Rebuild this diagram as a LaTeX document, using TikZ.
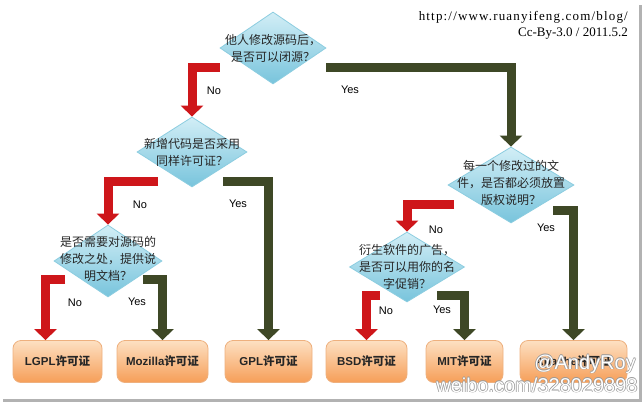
\documentclass[tikz,border=0pt]{standalone}
\usepackage{fontspec}
\setmainfont{Liberation Serif}
\newfontfamily\cjk{Noto Sans CJK SC}
\newfontfamily\arial{Liberation Sans}
\usetikzlibrary{shapes.geometric,arrows.meta}

\definecolor{noRed}{RGB}{206,22,26}
\definecolor{yesGreen}{RGB}{62,72,38}
\definecolor{diaTop}{RGB}{210,238,246}
\definecolor{diaBot}{RGB}{120,196,220}
\definecolor{diaLine}{RGB}{140,205,224}
\definecolor{boxTop}{RGB}{253,224,194}
\definecolor{boxBot}{RGB}{246,158,88}
\definecolor{boxLine}{RGB}{238,176,126}

\tikzset{
  question/.style 2 args={shape=diamond, minimum width=#1, minimum height=#2,
    inner sep=0pt, draw=diaLine, line width=0.8pt,
    top color=diaTop, bottom color=diaBot},
  qtext/.style={font=\cjk\fontsize{12}{17}\selectfont, align=center,
    text=black!85, inner sep=0pt},
  licence/.style={rectangle, rounded corners=8pt, minimum width=#1,
    minimum height=42pt, draw=boxLine, line width=0.8pt,
    top color=boxTop, bottom color=boxBot, text=black!85,
    font=\arial\bfseries\fontsize{11.5}{13}\selectfont},
  noarrow/.style={draw=noRed, line width=9pt,
    -{Triangle[length=11pt,width=22pt]}},
  yesarrow/.style={draw=yesGreen, line width=9pt,
    -{Triangle[length=11pt,width=22pt]}},
  answer/.style={font=\arial\fontsize{11}{13}\selectfont, inner sep=0pt},
  wmark/.style={font=\arial\fontsize{20}{22}\selectfont, inner sep=0pt},
}

\begin{document}
\begin{tikzpicture}[x=1pt,y=-1pt]
\useasboundingbox[fill=white] (0,0) rectangle (644,404);
% frame shadow
\fill[gray!60] (639,5) rectangle (642,402);
\fill[gray!60] (3,399) rectangle (642,402);

% source
\node[anchor=north east, align=right, inner sep=0pt,
  font=\fontsize{13}{16}\selectfont] (src) at (628,11)
  {{\addfontfeature{LetterSpace=9}http://www.ruanyifeng.com/blog/}\\Cc-By-3.0 / 2011.5.2};

% licences
\node[licence=89pt] (lgpl) at (57.5,361.5) {LGPL{\cjk 许可证}};
\node[licence=91pt] (moz) at (162.5,361.5) {Mozilla{\cjk 许可证}};
\node[licence=87pt] (gpl) at (268.5,361.5) {GPL{\cjk 许可证}};
\node[licence=81pt] (bsd) at (366.5,361.5) {BSD{\cjk 许可证}};
\node[licence=77pt] (mit) at (464.5,361.5) {MIT{\cjk 许可证}};
\node[licence=107pt] (apache) at (573.5,361.5) {Apache{\cjk 许可证}};

% questions
\node[question={106pt}{72pt}] (d1) at (273,48) {};
\node[qtext] (q1) at (d1) {他人修改源码后，\\是否可以闭源？};
\node[question={110pt}{70pt}] (d2) at (192,152) {};
\node[qtext] (q2) at (d2) {新增代码是否采用\\同样许可证？};
\node[question={126pt}{76pt}] (d3) at (511,185) {};
\node[qtext] (q3) at ([yshift=2pt]d3.center) {每一个修改过的文\\件，是否都必须放置\\版权说明？};
\node[question={108pt}{72pt}] (d5) at (108,261) {};
\node[qtext] (q5) at ([yshift=2pt]d5.center) {是否需要对源码的\\修改之处，提供说\\明文档？};
\node[question={115pt}{70pt}] (d4) at (407,267) {};
\node[qtext] (q4) at (d4) {衍生软件的广告，\\是否可以用你的名\\字促销？};

% connectors
\draw[noarrow] ([yshift=-19pt]d1.west) -| (d2.north);
\draw[yesarrow] ([yshift=-19pt]d1.east) -| (d3.north);
\draw[noarrow] ([xshift=-34pt,yshift=-29pt]d2.center) -| (d5.north);
\draw[yesarrow] ([xshift=31pt,yshift=-29pt]d2.center) -| (gpl.north);
\draw[noarrow] ([xshift=-43pt,yshift=-18pt]d5.center) -| ([xshift=-12pt]lgpl.north);
\draw[yesarrow] ([xshift=35pt,yshift=-18pt]d5.center) -| (moz.north);
\draw[noarrow] ([xshift=-57pt,yshift=-19pt]d3.center) -| (d4.north);
\draw[yesarrow] ([xshift=42pt,yshift=-25pt]d3.center) -| (apache.north);
\draw[noarrow] ([xshift=-27pt,yshift=-28pt]d4.center) -| (bsd.north);
\draw[yesarrow] ([xshift=30pt,yshift=-28pt]d4.center) -| (mit.north);

% answers
\node[answer] (no1) at (214,91) {No};
\node[answer] (yes1) at (350,90) {Yes};
\node[answer] (no2) at (140,205) {No};
\node[answer] (yes2) at (238,204) {Yes};
\node[answer] (no5) at (75,303) {No};
\node[answer] (yes5) at (137,302) {Yes};
\node[answer] (no3) at (436,230) {No};
\node[answer] (yes3) at (546,228) {Yes};
\node[answer] (no4) at (386,311) {No};
\node[answer] (yes4) at (442,310) {Yes};

% watermark
\foreach \dx/\dy [count=\i] in {-0.7/0,0.7/0,0/-0.7,0/0.7}{
  \node[wmark, text=gray!80] (wa\i) at (585+\dx,364+\dy) {@AndyRoy};
  \node[wmark, text=gray!80] (wb\i) at (537+\dx,385+\dy) {weibo.com/328029898};
}
\node[wmark, text=white] (wa) at (585,364) {@AndyRoy};
\node[wmark, text=white] (wb) at (537,385) {weibo.com/328029898};
\end{tikzpicture}
\end{document}
